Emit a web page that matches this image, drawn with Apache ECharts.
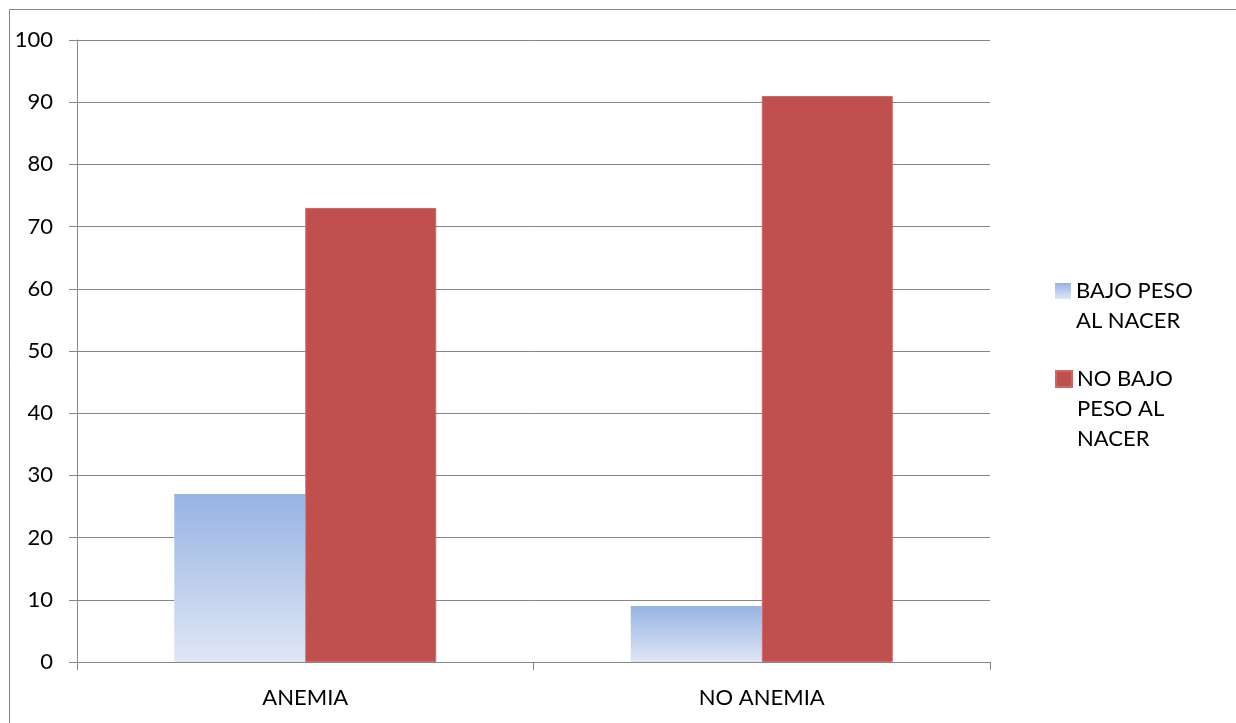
<!DOCTYPE html>
<html>
<head>
<meta charset="utf-8">
<script src="https://cdn.jsdelivr.net/npm/echarts@6/dist/echarts.min.js"></script>
<style>
  html, body { margin: 0; padding: 0; background: #fff; }
  #container { width: 1236px; height: 723px; }
</style>
</head>
<body>
<div id="container"></div>
<script>
const categories = ['ANEMIA', 'NO ANEMIA'];
const seriesNames = ['BAJO PESO AL NACER', 'NO BAJO PESO AL NACER'];
const bajoPeso = [27, 9];
const noBajoPeso = [73, 91];
// leading blank lines keep the icon level with the first text line
const legendLabels = {
  'BAJO PESO AL NACER': ' \nBAJO PESO\nAL NACER',
  'NO BAJO PESO AL NACER': ' \n \nNO BAJO\nPESO AL\nNACER'
};

const font = 'Lato, "Open Sans", sans-serif';
const lineColor = '#868686';

const chart = echarts.init(document.getElementById('container'));

const legendText = {
  color: '#000',
  fontFamily: font,
  fontSize: 22,
  lineHeight: 30
};

const opt = {
  animation: false,
  grid: { left: 77, right: 246, top: 40, bottom: 61 },
  legend: [
    {
      data: [seriesNames[0]],
      left: 1050,
      top: 241,
      icon: 'rect',
      itemWidth: 16,
      itemHeight: 16,
      formatter: (n) => legendLabels[n],
      textStyle: legendText
    },
    {
      data: [seriesNames[1]],
      left: 1050,
      top: 299,
      icon: 'rect',
      itemWidth: 16,
      itemHeight: 16,
      formatter: (n) => legendLabels[n],
      textStyle: legendText
    }
  ],
  xAxis: {
    type: 'category',
    data: categories,
    axisLine: { lineStyle: { color: lineColor } },
    axisTick: { show: true, length: 8, lineStyle: { color: lineColor } },
    axisLabel: { color: '#000', fontFamily: font, fontSize: 22, margin: 25 }
  },
  yAxis: {
    type: 'value',
    min: 0,
    max: 100,
    interval: 10,
    axisLine: { show: true, lineStyle: { color: lineColor } },
    axisTick: { show: true, length: 8, lineStyle: { color: lineColor } },
    axisLabel: { color: '#000', fontFamily: font, fontSize: 22, margin: 24 },
    splitLine: { lineStyle: { color: lineColor } }
  },
  series: [
    {
      name: seriesNames[0],
      type: 'bar',
      data: bajoPeso,
      barWidth: 131,
      barGap: '0%',
      itemStyle: {
        color: new echarts.graphic.LinearGradient(0, 0, 0, 1, [
          { offset: 0, color: '#97b3e3' },
          { offset: 1, color: '#e0e7f5' }
        ])
      }
    },
    {
      name: seriesNames[1],
      type: 'bar',
      data: noBajoPeso,
      barWidth: 131,
      barGap: '0%',
      itemStyle: { color: '#c0504d', borderColor: '#cd6865', borderWidth: 1 }
    }
  ],
  graphic: [
    {
      type: 'rect',
      shape: { x: 9.5, y: 9.5, width: 1240, height: 720 },
      style: { fill: null, stroke: lineColor, lineWidth: 1 },
      silent: true
    }
  ]
};

chart.setOption(opt);
</script>
</body>
</html>
